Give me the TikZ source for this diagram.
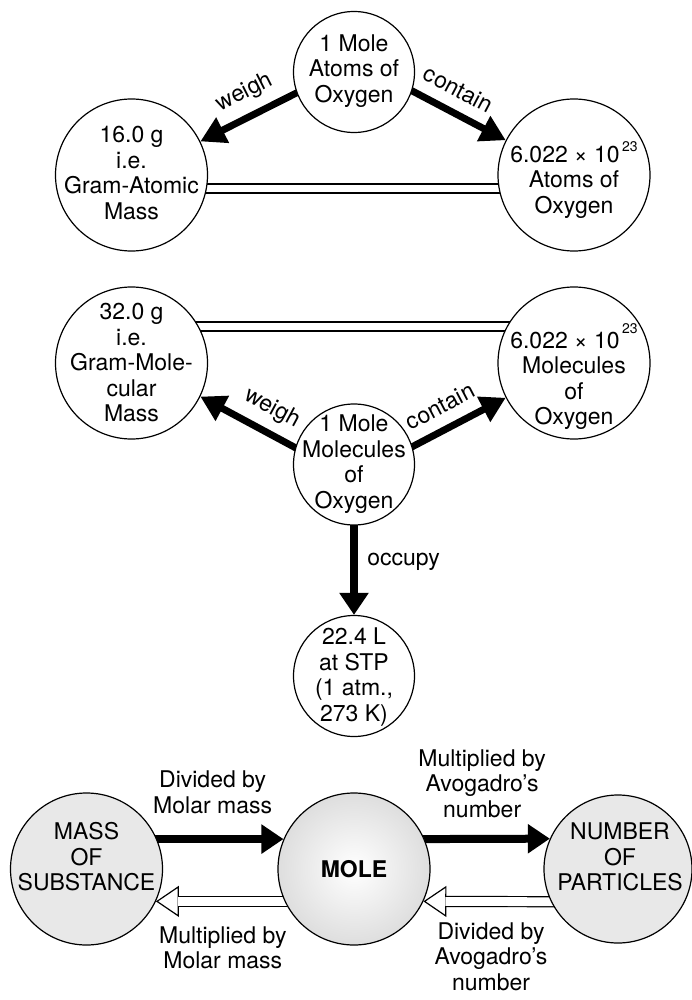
\documentclass[tikz,border=0pt]{standalone}
\usepackage{fontspec}
\setmainfont{TeX Gyre Heros}
\usetikzlibrary{arrows.meta, backgrounds}
\tikzset{>=stealth}
\tikzset{
    ring/.style={circle, draw, line width=1.2pt, fill=white, inner sep=0pt},
    big/.style={ring, minimum size=152pt},
    small/.style={ring, minimum size=121pt},
    txt/.style={align=center, inner sep=0pt, font=\fontsize{23}{25.5}\selectfont},
    lbl/.style={txt, inner sep=3.33pt},
    heavy/.style={line width=7pt, -{Triangle[length=25pt, width=27pt]}, shorten <=-6pt},
    heavier/.style={line width=8pt, -{Triangle[length=22pt, width=28pt]}, shorten <=-6pt},
    twin/.style={double, double distance=7.7pt, line width=1.3pt},
    hollowtip/.style={line width=1.2pt, -{Triangle[open, fill=white, length=23pt, width=31pt]}},
    hollowbar/.style={double, double distance=8.8pt, line width=1.2pt, shorten >=22pt, shorten <=-6pt}
}
\newcommand{\avoexp}[1]{\kern2.5pt\smash{\raisebox{#1}{\fontsize{14}{14}\selectfont 23}}}

\begin{document}
\begin{tikzpicture}[x=1pt, y=-1pt]
    \useasboundingbox (0,0) rectangle (692,1000);
    % 1 mole of oxygen atoms
    \node[small] (oatom) at (354,72) {};
    \node[big] (gatom) at (131.5,175) {};
    \node[big] (natom) at (574,175) {};
    \node[txt] (oatom-t) at (354,71) {1 Mole\\Atoms of\\Oxygen};
    \node[txt] (gatom-t) at (131.5,173) {16.0 g\\i.e.\\Gram-Atomic\\Mass};
    \node[txt] (natom-t) at (574,182) {6.022 × 10\avoexp{11pt}\\Atoms of\\Oxygen};
    % 1 mole of oxygen molecules
    \node[big] (gmol) at (131.5,363) {};
    \node[big] (nmol) at (574,363) {};
    \node[small] (omol) at (354,464.5) {};
    \node[small] (stp) at (354,676) {};
    \node[txt] (gmol-t) at (131.5,363) {32.0 g\\i.e.\\Gram-Mole-\\cular\\Mass};
    \node[txt] (nmol-t) at (574,381) {6.022 × 10\avoexp{15pt}\\Molecules\\of\\Oxygen};
    \node[txt] (omol-t) at (354,464) {1 Mole\\Molecules\\of\\Oxygen};
    \node[txt] (stp-t) at (354,677) {22.4 L\\at STP\\(1 atm.,\\273 K)};
    % mole conversions
    \node[big, fill=black!9] (mass) at (86.5,869) {};
    \node[big, inner color=white, outer color=black!13] (mole) at (354,869) {};
    \node[ring, minimum size=148pt, fill=black!9] (num) at (618,869) {};
    \node[txt] (mass-t) at (86.5,857) {MASS\\OF\\SUBSTANCE};
    \node[txt, font=\fontsize{23}{25.5}\selectfont\bfseries] (mole-t) at (354,869) {MOLE};
    \node[txt] (num-t) at (620,857) {NUMBER\\OF\\PARTICLES};

    \begin{pgfonlayer}{background}
        \draw[twin] ([yshift=-13.5pt]gatom.center) -- ([yshift=-13.5pt]natom.center);
        \draw[heavy] (oatom.200) -- node[pos=0.43, sloped, above=6pt, lbl] {weigh} (gatom.26);
        \draw[heavy] (oatom.-18) -- node[pos=0.38, sloped, above=8pt, lbl] {contain} (natom.153);

        \draw[twin] ([yshift=36.5pt]gmol.center) -- ([yshift=36.5pt]nmol.center);
        \draw[heavy] (omol.164) -- node[pos=0.36, sloped, above=6pt, lbl] {weigh} (gmol.-26);
        \draw[heavy] (omol.17) -- node[pos=0.41, sloped, above=8pt, lbl] {contain} (nmol.207);
        \draw[heavier] (omol.south) -- node[pos=0.4, right=6pt, lbl] {occupy} (stp.north);

        \draw[heavier] (mass.23) -- node[pos=0.44, above=18pt, lbl] {Divided by\\Molar mass} (mole.157);
        \draw[heavier] (mole.23) -- node[pos=0.46, above=14pt, lbl] {Multiplied by\\Avogadro’s\\number} (num.156);
        \draw[hollowtip] (mole.205) -- (mass.-25);
        \draw[hollowbar] (mole.205) -- node[pos=0.48, below=21pt, lbl] {Multiplied by\\Molar mass} (mass.-25);
        \draw[hollowtip] (num.206) -- (mole.-25);
        \draw[hollowbar] (num.206) -- node[pos=0.47, below=17pt, lbl] {Divided by\\Avogadro’s\\number} (mole.-25);
    \end{pgfonlayer}
\end{tikzpicture}
\end{document}
